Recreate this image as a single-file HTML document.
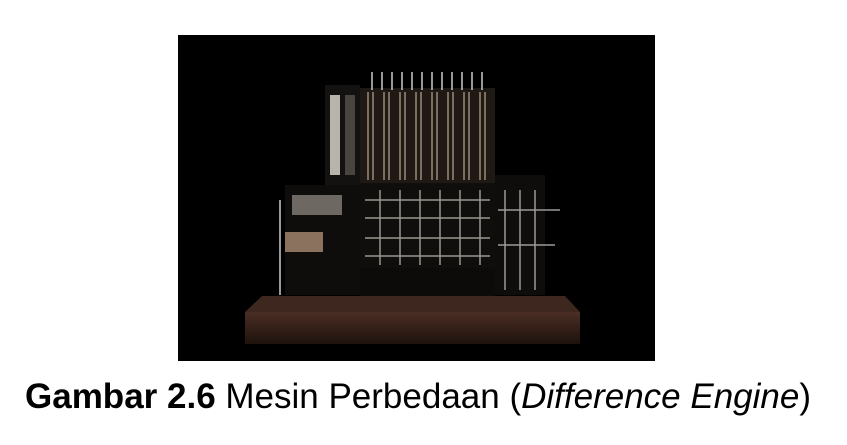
<!DOCTYPE html>
<html><head><meta charset="utf-8"><style>
html,body{margin:0;padding:0;background:#fff;width:847px;height:445px;overflow:hidden}
#photo{position:absolute;left:178px;top:35px;width:477px;height:326px}
#cap{position:absolute;left:25px;top:377px;font-family:"Liberation Sans",sans-serif;font-size:35px;color:#000;white-space:nowrap}
</style></head><body>
<svg id="photo" width="477" height="326" viewBox="178 35 477 326">
<defs>
<linearGradient id="wood" x1="0" y1="0" x2="0" y2="1"><stop offset="0" stop-color="#4a2e24"/><stop offset="1" stop-color="#1e120d"/></linearGradient>
</defs>
<rect x="178" y="35" width="477" height="326" fill="#000"/>
<g>
<polygon points="262,296 565,296 580,312 245,312" fill="#3e271e"/>
<rect x="245" y="312" width="335" height="32" fill="url(#wood)"/>
</g>
<g>
<rect x="360" y="88" width="135" height="95" fill="#1e1915"/>
<g stroke="#a08a74" stroke-width="1.5">
<line x1="368" y1="92" x2="368" y2="180"/><line x1="373" y1="92" x2="373" y2="180"/><line x1="384" y1="92" x2="384" y2="180"/><line x1="389" y1="92" x2="389" y2="180"/><line x1="400" y1="92" x2="400" y2="180"/><line x1="405" y1="92" x2="405" y2="180"/><line x1="416" y1="92" x2="416" y2="180"/><line x1="421" y1="92" x2="421" y2="180"/><line x1="432" y1="92" x2="432" y2="180"/><line x1="437" y1="92" x2="437" y2="180"/><line x1="448" y1="92" x2="448" y2="180"/><line x1="453" y1="92" x2="453" y2="180"/><line x1="464" y1="92" x2="464" y2="180"/><line x1="469" y1="92" x2="469" y2="180"/><line x1="480" y1="92" x2="480" y2="180"/><line x1="485" y1="92" x2="485" y2="180"/>
</g>
<g stroke="#ccc" stroke-width="1.5">
<line x1="372" y1="72" x2="372" y2="90"/><line x1="382" y1="72" x2="382" y2="90"/><line x1="392" y1="72" x2="392" y2="90"/><line x1="402" y1="72" x2="402" y2="90"/><line x1="412" y1="72" x2="412" y2="90"/><line x1="422" y1="72" x2="422" y2="90"/><line x1="432" y1="72" x2="432" y2="90"/><line x1="442" y1="72" x2="442" y2="90"/><line x1="452" y1="72" x2="452" y2="90"/><line x1="462" y1="72" x2="462" y2="90"/><line x1="472" y1="72" x2="472" y2="90"/><line x1="482" y1="72" x2="482" y2="90"/>
</g>
<rect x="360" y="183" width="135" height="85" fill="#100e0d"/>
<g stroke="#9a958e" stroke-width="1.5">
<line x1="365" y1="200" x2="490" y2="200"/><line x1="365" y1="218" x2="490" y2="218"/><line x1="365" y1="238" x2="490" y2="238"/><line x1="365" y1="256" x2="490" y2="256"/>
<line x1="380" y1="190" x2="380" y2="265"/><line x1="400" y1="190" x2="400" y2="265"/><line x1="420" y1="190" x2="420" y2="265"/><line x1="440" y1="190" x2="440" y2="265"/><line x1="460" y1="190" x2="460" y2="265"/><line x1="480" y1="190" x2="480" y2="265"/>
</g>
<rect x="360" y="268" width="135" height="28" fill="#0d0b0a"/>
</g>
<g>
<rect x="325" y="85" width="35" height="210" fill="#141211"/>
<rect x="330" y="95" width="10" height="80" fill="#b8b3ab"/>
<rect x="345" y="95" width="10" height="80" fill="#4a443e"/>
<rect x="285" y="185" width="75" height="110" fill="#0f0d0c"/>
<rect x="292" y="195" width="50" height="20" fill="#6d6861"/>
<rect x="285" y="232" width="38" height="20" fill="#8a725e"/>
<line x1="280" y1="200" x2="280" y2="295" stroke="#999" stroke-width="2"/>
</g>
<g>
<rect x="495" y="175" width="50" height="120" fill="#0f0d0c"/>
<g stroke="#9a9a9a" stroke-width="1.5"><line x1="505" y1="190" x2="505" y2="290"/><line x1="520" y1="190" x2="520" y2="290"/><line x1="535" y1="190" x2="535" y2="290"/><line x1="498" y1="210" x2="560" y2="210"/><line x1="498" y1="245" x2="555" y2="245"/></g>
</g>
</svg>
<div id="cap"><b>Gambar 2.6</b> Mesin Perbedaan (<i>Difference Engine</i>)</div>
</body></html>
